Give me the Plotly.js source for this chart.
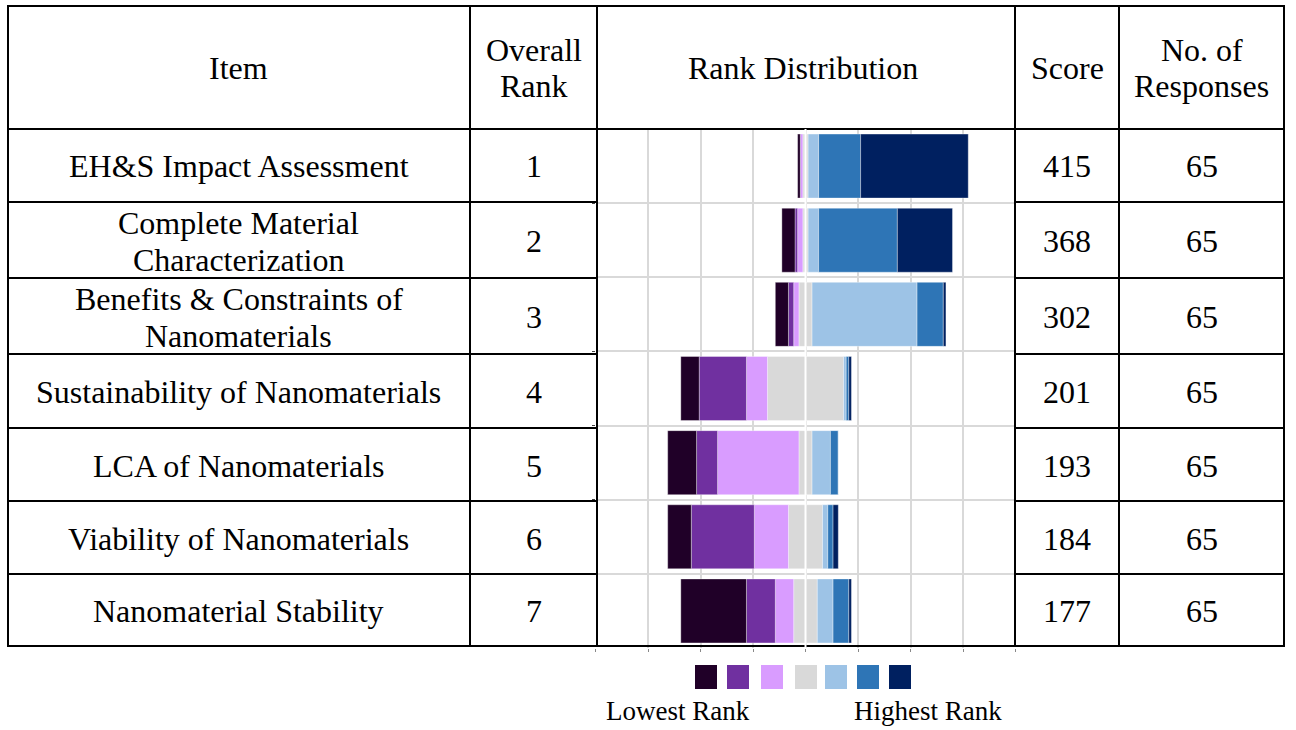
<!DOCTYPE html>
<html><head><meta charset="utf-8">
<script src="https://cdn.plot.ly/plotly-3.0.1.min.js"></script>
<style>html,body{margin:0;padding:0;background:#fff;}#chart{width:1296px;height:730px;}</style>
</head><body><div id="chart"></div>
<script>
// ---------- data ----------
const items = ["EH&S Impact Assessment", "Complete Material|Characterization", "Benefits & Constraints of|Nanomaterials",
  "Sustainability of Nanomaterials", "LCA of Nanomaterials", "Viability of Nanomaterials", "Nanomaterial Stability"];
const overallRank = [1, 2, 3, 4, 5, 6, 7];
const scores = [415, 368, 302, 201, 193, 184, 177];
const responses = [65, 65, 65, 65, 65, 65, 65];
// counts of responses at each rank position (1 = lowest ... 7 = highest)
const rank1 = [1, 5, 5, 7, 11, 9, 25];
const rank2 = [0, 1, 2, 18, 8, 24, 11];
const rank3 = [1, 2, 2, 8, 31, 13, 7];
const rank4 = [2, 2, 5, 29, 5, 13, 9];
const rank5 = [4, 4, 40, 1, 7, 2, 6];
const rank6 = [16, 30, 10, 1, 3, 2, 6];
const rank7 = [41, 21, 1, 1, 0, 2, 1];
const headers = ["Item", "Overall|Rank", "Rank Distribution", "Score", "No. of|Responses"];
const legendLow = "Lowest Rank";
const legendHigh = "Highest Rank";

// ---------- styles ----------
const colors = ["#200028", "#7030a0", "#d99cff", "#d9d9d9", "#9dc3e6", "#2e75b6", "#002060"];
const W = 1296, H = 730;
const px = x => x / W, py = y => 1 - y / H;
const FONT = "Liberation Serif";
const cats = items.map((s, i) => "c" + i);

const outline = {color: "rgba(255,255,255,0.35)", width: 1};
function tr(vals, color, sign) {
  return {type: "bar", orientation: "h", y: cats, x: vals.map(v => sign * v),
    marker: {color: color, line: outline}, hoverinfo: "skip", showlegend: false};
}
const half = rank4.map(v => v / 2);
const traces = [
  tr(half, colors[3], -1), tr(half, colors[3], 1),
  tr(rank3, colors[2], -1), tr(rank5, colors[4], 1),
  tr(rank2, colors[1], -1), tr(rank6, colors[5], 1),
  tr(rank1, colors[0], -1), tr(rank7, colors[6], 1)
];

// ---------- table geometry ----------
const colX = [8, 470, 597, 1015, 1119, 1284];
const rowY = [6, 129, 202, 278, 354, 428, 501, 574, 646];
const shapes = [];
const blk = {color: "#000", width: 2};
colX.forEach(x => shapes.push({type: "line", xref: "paper", yref: "paper", x0: px(x), x1: px(x), y0: py(rowY[0]), y1: py(rowY[8]), line: blk}));
[rowY[0], rowY[1], rowY[8]].forEach(y => shapes.push({type: "line", xref: "paper", yref: "paper", x0: px(colX[0] - 1), x1: px(colX[5] + 1), y0: py(y), y1: py(y), line: blk}));
rowY.slice(2, 8).forEach(y => {
  shapes.push({type: "line", xref: "paper", yref: "paper", x0: px(colX[0]), x1: px(colX[2]), y0: py(y), y1: py(y), line: blk});
  shapes.push({type: "line", xref: "paper", yref: "paper", x0: px(colX[3]), x1: px(colX[5]), y0: py(y), y1: py(y), line: blk});
});
// white centre line through the distribution
shapes.push({type: "line", xref: "x", yref: "paper", x0: 0, x1: 0, y0: py(648), y1: py(129), line: {color: "#fff", width: 2}, layer: "above"});

// legend swatches
const swX = [695, 727, 761, 795, 825, 857, 889];
colors.forEach((c, i) => shapes.push({type: "rect", xref: "paper", yref: "paper", x0: px(swX[i]), x1: px(swX[i] + 22), y0: py(689), y1: py(665), fillcolor: c, line: {width: 0}}));

// ---------- text ----------
const annotations = [];
const LS = 37;
function txt(str, x, y, size) {
  const lines = str.split("|");
  lines.forEach((l, k) => {
    const yy = y + (k - (lines.length - 1) / 2) * LS;
    annotations.push({text: l, xref: "paper", yref: "paper", x: px(x), y: py(yy), xanchor: "center", yanchor: "middle",
      showarrow: false, font: {family: FONT, size: size || 32, color: "#000"}});
  });
}
const colC = [239, 533.5, 806, 1067, 1201.5];
headers.forEach((h, i) => txt(h, colC[i] - (i === 2 ? 3 : 0), 68));
items.forEach((it, r) => {
  const yc = (rowY[r + 1] + rowY[r + 2]) / 2 + 1;
  txt(it, colC[0], yc);
  txt(String(overallRank[r]), colC[1], yc);
  txt(String(scores[r]), colC[3], yc);
  txt(String(responses[r]), colC[4], yc);
});
annotations.push({text: legendLow, xref: "paper", yref: "paper", x: px(678), y: py(711), xanchor: "center", yanchor: "middle", showarrow: false, font: {family: FONT, size: 27, color: "#000"}});
annotations.push({text: legendHigh, xref: "paper", yref: "paper", x: px(928), y: py(711), xanchor: "center", yanchor: "middle", showarrow: false, font: {family: FONT, size: 27, color: "#000"}});

const layout = {
  width: W, height: H, margin: {l: 0, r: 0, t: 0, b: 0},
  paper_bgcolor: "#fff", plot_bgcolor: "#fff",
  font: {family: FONT},
  barmode: "relative", bargap: 0.137, showlegend: false,
  xaxis: {domain: [px(595.5), px(1015.5)], range: [-80, 80], dtick: 20, tick0: 0, showgrid: true, gridcolor: "#d9d9d9", gridwidth: 2,
    zeroline: false, showticklabels: false, ticks: "outside", ticklen: 3, tickcolor: "#888", showline: false, fixedrange: true},
  yaxis: {domain: [py(648), py(129)], type: "category", autorange: "reversed", tickson: "boundaries", showgrid: true,
    gridcolor: "#d9d9d9", gridwidth: 2, ticks: "outside", ticklen: 3, tickcolor: "#444", showticklabels: false, zeroline: false, fixedrange: true},
  shapes: shapes, annotations: annotations
};
Plotly.newPlot("chart", traces, layout, {displayModeBar: false, staticPlot: true});
</script>
</body></html>
